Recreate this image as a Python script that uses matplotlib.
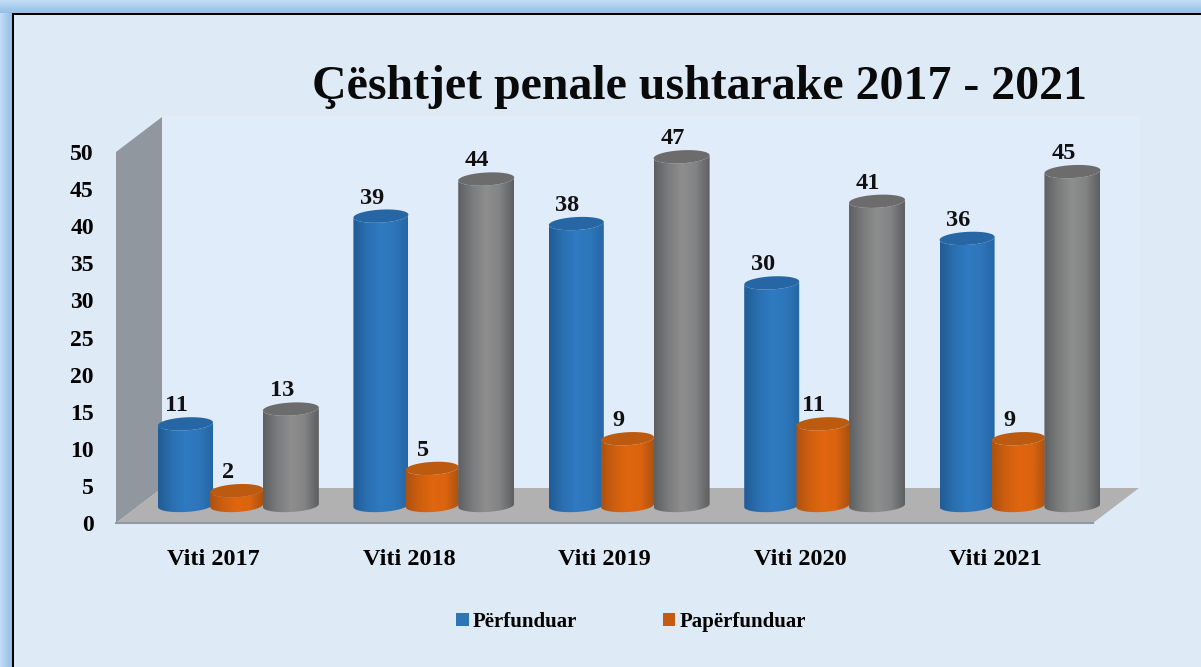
import numpy as np
import matplotlib
matplotlib.use("Agg")
import matplotlib.pyplot as plt
from matplotlib.colors import LinearSegmentedColormap
from matplotlib.patches import Patch, Polygon, Rectangle
from matplotlib.path import Path

plt.rcParams["font.family"] = ["Liberation Serif", "DejaVu Serif"]
plt.rcParams["font.weight"] = "bold"

title = "Çështjet penale ushtarake 2017 - 2021"
years = ["Viti 2017", "Viti 2018", "Viti 2019", "Viti 2020", "Viti 2021"]
perfunduar = [11, 39, 38, 30, 36]
paperfunduar = [2, 5, 9, 11, 9]
totali = [13, 44, 47, 41, 45]
y_ticks = list(range(0, 55, 5))

W, H = 1201, 667
LEFT, RIGHT, BOTTOM, TOP = 116, 1093, 523, 152
px_x = (RIGHT - LEFT) / 5
px_y = (BOTTOM - TOP) / 50
depth_x, depth_y = 46 / px_x, 35 / px_y

fig = plt.figure(figsize=(W / 100, H / 100), dpi=100, facecolor="#DEEAF6")

# blue frame, only on the top and left like the source picture
bg = fig.add_axes([0, 0, 1, 1], zorder=0)
bg.set_xlim(0, W)
bg.set_ylim(H, 0)
bg.axis("off")
frame = LinearSegmentedColormap.from_list("frame", ["#C4DDF6", "#AACDEF", "#97BFE6"])
bg.imshow(np.linspace(0, 1, 30).reshape(1, -1), extent=(0, 12, H, 0), cmap=frame, aspect="auto")
bg.imshow(np.linspace(0, 1, 30).reshape(-1, 1), extent=(0, W, 13, 0), cmap=frame, aspect="auto")
bg.add_patch(Rectangle((12, 13), 2, H, color="black", lw=0))
bg.add_patch(Rectangle((12, 13), W, 2, color="black", lw=0))
bg.set_xlim(0, W)
bg.set_ylim(H, 0)

ax = fig.add_axes(
    [LEFT / W, 1 - BOTTOM / H, (RIGHT - LEFT) / W, (BOTTOM - TOP) / H], zorder=1
)
ax.patch.set_alpha(0)
ax.set_xlim(-0.5, 4.5)
ax.set_ylim(0, 50)
ax.set_autoscale_on(False)
for s in ax.spines.values():
    s.set_visible(False)

# 3D box: back wall, side wall, floor
x0, x1 = -0.5, 4.5
ax.add_patch(Polygon(
    [(x0 + depth_x, depth_y), (x1 + depth_x, depth_y), (x1 + depth_x, 50 + depth_y), (x0 + depth_x, 50 + depth_y)],
    facecolor="#E1ECFB", edgecolor="#E6ECF4", lw=1.5, clip_on=False, zorder=1))
ax.add_patch(Polygon(
    [(x0, 0), (x0 + depth_x, depth_y), (x0 + depth_x, 50 + depth_y), (x0, 50)],
    facecolor="#90979E", edgecolor="none", clip_on=False, zorder=2))
ax.add_patch(Polygon(
    [(x0, 0), (x0 + depth_x, depth_y), (x1 + depth_x, depth_y), (x1, 0)],
    facecolor="#B1B1B1", edgecolor="none", clip_on=False, zorder=2))
ax.plot([x0, x1], [0, 0], color="#8F9AA6", lw=1.5, clip_on=False, zorder=3)


def cylinder(xc, value, half_w, stops, top_color, z):
    # cylinder stands in the middle of the box depth
    cx = xc + depth_x / 2
    y0 = depth_y / 2
    yt = y0 + value
    b = 6.5 / px_y
    tilt = 1.5 / px_y
    t = np.linspace(np.pi, 2 * np.pi, 40)
    lower_x = cx + half_w * np.cos(t)
    lower_y = y0 + b * np.sin(t) + tilt * np.cos(t)
    upper_t = t[::-1]
    upper_x = cx + half_w * np.cos(upper_t)
    upper_y = yt + b * np.sin(upper_t) + tilt * np.cos(upper_t)
    side = np.column_stack([np.r_[lower_x, upper_x], np.r_[lower_y, upper_y]])
    cmap = LinearSegmentedColormap.from_list("cyl", stops)
    im = ax.imshow(
        np.linspace(0, 1, 80).reshape(1, -1),
        extent=(cx - half_w, cx + half_w, y0 - 2 * b, yt + 2 * b),
        cmap=cmap, aspect="auto", zorder=z, interpolation="bilinear",
    )
    im.set_clip_box(fig.bbox)
    im.set_clip_path(Path(np.vstack([side, side[0]]), closed=True), ax.transData)
    a = np.linspace(0, 2 * np.pi, 60)
    ax.fill(cx + half_w * np.cos(a), yt + b * np.sin(a) + tilt * np.cos(a),
            color=top_color, lw=0, zorder=z + 0.1, clip_on=False)
    return cx, yt


blue_stops = ["#215C96", "#2A6FB0", "#2F7AC2", "#2E76BA", "#2566A6"]
orange_stops = ["#AD520F", "#CE5F0F", "#E0660E", "#DC640F", "#AD520F"]
gray_stops = ["#5E5F61", "#7A7B7C", "#8E8E8E", "#828384", "#5E5F61"]

series = [
    (perfunduar, -0.262, 27.5, blue_stops, "#2666A4", 4),
    (paperfunduar, 0.0, 26.5, orange_stops, "#BC5A0F", 5),
    (totali, 0.277, 28.0, gray_stops, "#6C6C6C", 6),
]
for values, off, hw, stops, top_color, z in series:
    for i, v in enumerate(values):
        cx, yt = cylinder(i + off, v, hw / px_x, stops, top_color, z)
        ax.annotate(str(v), (cx, yt), xytext=(-6.5, 13), textcoords="offset points",
                    ha="center", va="center", fontsize=17.5, fontweight="bold",
                    color="#111111", zorder=8, annotation_clip=False)

ax.set_yticks(y_ticks)
ax.set_xticks(range(len(years)))
ax.set_xticklabels(years)
ax.tick_params(axis="y", length=0, pad=16, labelsize=17)
ax.tick_params(axis="x", length=0, pad=18.5, labelsize=17.5)

fig.text(700 / W, 1 - 87 / H, title, ha="center", va="center", fontsize=34.5,
         fontweight="bold", color="#0A0A0A")

handles = [Patch(facecolor="#2E75B6", label="Përfunduar"),
           Patch(facecolor="#C55A11", label="Papërfunduar")]
fig.legend(handles=handles, loc="center", bbox_to_anchor=(631 / W, 1 - 622 / H),
           ncol=2, frameon=False, fontsize=15, handlelength=0.6, handleheight=0.6,
           handletextpad=0.2, columnspacing=4.1)

fig.savefig("out.png", dpi=100, facecolor=fig.get_facecolor())
